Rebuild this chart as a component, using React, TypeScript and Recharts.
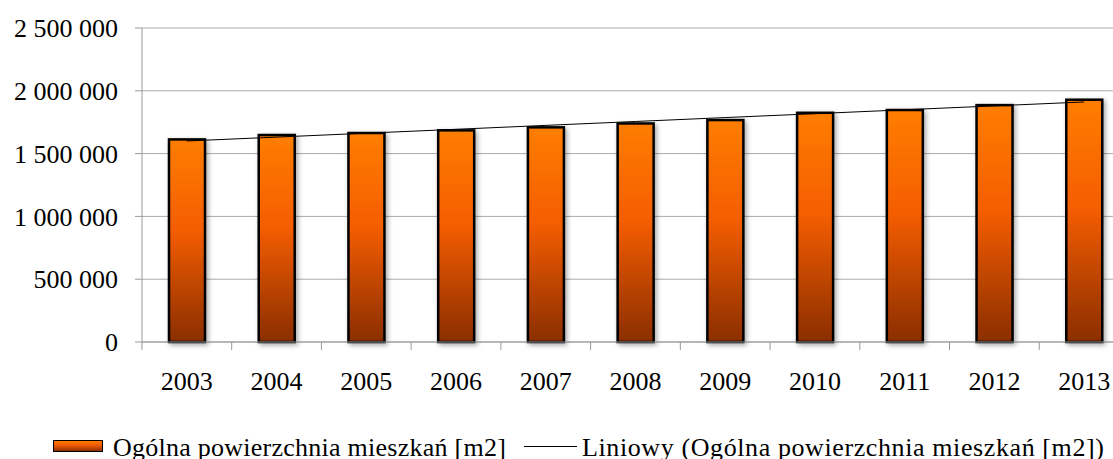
import { Bar, CartesianGrid, ComposedChart, Legend, Line, XAxis, YAxis } from 'recharts'

// years on the category axis
const years = ['2003', '2004', '2005', '2006', '2007', '2008', '2009', '2010', '2011', '2012', '2013']

// total dwelling floor area [m2]
const area = [1613000, 1648000, 1664000, 1685000, 1709000, 1740000, 1767000, 1825000, 1847000, 1886000, 1929000]

const yTicks = [0, 500000, 1000000, 1500000, 2000000, 2500000]

const seriesName = 'Ogólna powierzchnia mieszkań [m2]'
const trendName = 'Liniowy (Ogólna powierzchnia mieszkań [m2])'

// linear trend (least squares), like the spreadsheet "Liniowy" trendline
const n = area.length
const meanX = (n - 1) / 2
const meanY = area.reduce((a, b) => a + b, 0) / n
let sxy = 0
let sxx = 0
area.forEach((v, i) => {
	sxy += (i - meanX) * (v - meanY)
	sxx += (i - meanX) * (i - meanX)
})
const slope = sxy / sxx

const data = years.map((year, i) => ({
	year,
	area: area[i],
	trend: meanY + slope * (i - meanX),
}))

const FONT = "'Liberation Serif', 'Times New Roman', serif"
const HALF_BAND = 44.9

const fmt = (v: number) => v.toString().replace(/\B(?=(\d{3})+(?!\d))/g, ' ')

const XTick = ({ x, y, payload }: any) => (
	<g>
		<line x1={x - HALF_BAND} x2={x - HALF_BAND} y1={y} y2={y + 8} stroke='#999' />
		<text x={x} y={y + 48} textAnchor='middle' fontSize={26} fontFamily={FONT} fill='#000'>
			{payload.value}
		</text>
	</g>
)

const BarShape = ({ x, y, width, height }: any) => (
	<rect x={x} y={y} width={width} height={height} fill='url(#barGrad)' stroke='#000' strokeWidth={2.5} filter='url(#barShadow)' />
)

const LegendContent = () => (
	<div style={{ position: 'relative', height: 24, fontFamily: FONT, fontSize: 26, color: '#000', lineHeight: '24px', whiteSpace: 'nowrap' }}>
		<div
			style={{
				position: 'absolute',
				left: 53,
				top: 5,
				width: 48,
				height: 10,
				border: '1.5px solid #000',
				background: 'linear-gradient(#ff7a00, #e85500, #8a2e00)',
			}}
		/>
		<span style={{ position: 'absolute', left: 113, top: 1, letterSpacing: 0.25 }}>{seriesName}</span>
		<div style={{ position: 'absolute', left: 524, top: 11, width: 53, height: 1, background: '#000' }} />
		<span style={{ position: 'absolute', left: 582, top: 1, letterSpacing: 0.6 }}>{trendName}</span>
	</div>
)

export default function App() {
	return (
		<div style={{ position: 'fixed', left: 0, top: 0, width: 1113, height: 459, overflow: 'hidden', background: '#fff' }}>
			<ComposedChart width={1135} height={459} data={data} margin={{ top: 28, right: 6, left: 0, bottom: 0 }}>
				<defs>
					<linearGradient id='barGrad' x1='0' y1='0' x2='0' y2='1'>
						<stop offset='0%' stopColor='#ff7d00' />
						<stop offset='45%' stopColor='#f45d00' />
						<stop offset='100%' stopColor='#8a2e00' />
					</linearGradient>
					<filter id='barShadow' x='-30%' y='-10%' width='160%' height='120%'>
						<feDropShadow dx='2' dy='2' stdDeviation='2.5' floodColor='#000' floodOpacity='0.35' />
					</filter>
				</defs>
				<CartesianGrid vertical={false} stroke='#aaa' />
				<XAxis
					dataKey='year'
					height={93}
					tickLine={false}
					tickSize={0}
					tickMargin={0}
					axisLine={{ stroke: '#999' }}
					tick={<XTick />}
					interval={0}
				/>
				<YAxis
					width={142}
					domain={[0, 2500000]}
					ticks={yTicks}
					tickFormatter={fmt}
					tickSize={7}
					tickMargin={17}
					axisLine={{ stroke: '#999' }}
					tickLine={{ stroke: '#999' }}
					tick={{ fill: '#000', fontSize: 26, fontFamily: FONT }}
				/>
				<Legend verticalAlign='bottom' content={<LegendContent />} />
				<Bar dataKey='area' name={seriesName} barSize={36} shape={<BarShape />} isAnimationActive={false} />
				<Line dataKey='trend' name={trendName} type='linear' stroke='#000' strokeWidth={1} dot={false} activeDot={false} isAnimationActive={false} />
			</ComposedChart>
		</div>
	)
}
